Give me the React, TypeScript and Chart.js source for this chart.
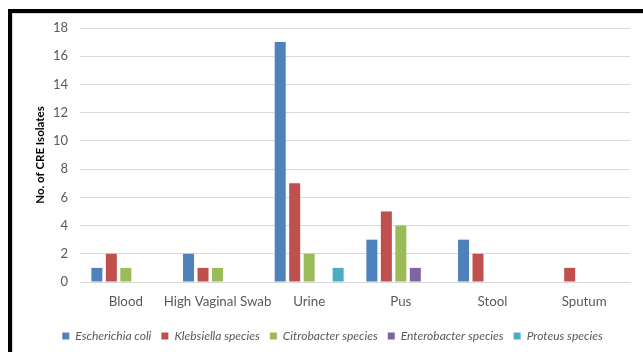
import React, { useEffect, useRef } from "react";
import { Chart, registerables } from "chart.js";

Chart.register(...registerables);

const categories = ["Blood", "High Vaginal Swab", "Urine", "Pus", "Stool", "Sputum"];
const seriesNames = ["Escherichia coli", "Klebsiella species", "Citrobacter species", "Enterobacter species", "Proteus species"];
const ecoli = [1, 2, 17, 3, 3, null];
const klebsiella = [2, 1, 7, 5, 2, 1];
const citrobacter = [1, 1, 2, 4, null, null];
const enterobacter = [null, null, null, 1, null, null];
const proteus = [null, null, 1, null, null, null];
const colors = ["#4F81BD", "#C0504D", "#9BBB59", "#8064A2", "#4BACC6"];
const yTicks = [0, 2, 4, 6, 8, 10, 12, 14, 16, 18];

export default function App() {
  const ref = useRef<HTMLCanvasElement>(null);
  useEffect(() => {
    document.body.style.margin = "0";
    document.body.style.overflow = "hidden";
    const values = [ecoli, klebsiella, citrobacter, enterobacter, proteus];
    const chart = new Chart(ref.current!, {
      type: "bar",
      data: {
        labels: categories,
        datasets: seriesNames.map((n, i) => ({
          label: n,
          data: values[i],
          backgroundColor: colors[i],
          borderWidth: 0,
          categoryPercentage: 0.79,
          barPercentage: 0.76,
        })),
      },
      options: {
        animation: false,
        responsive: false,
        maintainAspectRatio: false,
        layout: { padding: { left: 22, right: 13, top: 14, bottom: 0 } },
        plugins: {
          tooltip: { enabled: false },
          legend: {
            position: "bottom",
            labels: {
              boxWidth: 7,
              boxHeight: 7,
              padding: 10,
              color: "#595959",
              font: { family: "Lato", size: 12, style: "italic" },
            },
          },
        },
        scales: {
          x: {
            afterFit: (s: any) => { s.height = 38; s.paddingLeft = 0; s.paddingRight = 0; },
            grid: { display: false, drawTicks: false },
            border: { display: true, color: "#D9D9D9" },
            ticks: { color: "#595959", padding: 12, font: { family: "Lato", size: 13.3 }, maxRotation: 0, autoSkip: false },
          },
          y: {
            min: 0,
            max: 18,
            afterFit: (s: any) => { s.width = 45; s.paddingTop = 0; s.paddingBottom = 0; },
            afterBuildTicks: (s: any) => { s.ticks = yTicks.map((v) => ({ value: v })); },
            grid: { color: "#D9D9D9", drawTicks: false },
            border: { display: false },
            ticks: { color: "#595959", padding: 12, font: { family: "Lato", size: 13 } },
            title: {
              display: true,
              text: "No. of CRE Isolates",
              color: "#000",
              font: { family: "Lato", size: 11.5, weight: "bold" },
              padding: { top: -2, bottom: 0 },
            },
          },
        },
      },
    });
    return () => chart.destroy();
  }, []);
  return (
    <div
      style={{
        position: "absolute",
        left: 8,
        top: 9,
        width: 635,
        height: 343,
        borderTop: "4px solid #000",
        borderLeft: "4px solid #000",
        boxSizing: "border-box",
        background: "#fff",
      }}
    >
      <div style={{ borderTop: "1px solid #D9D9D9", borderLeft: "1px solid #D9D9D9", width: 631, height: 339, boxSizing: "border-box" }}>
        <canvas ref={ref} width={630} height={338} style={{ display: "block", width: 630, height: 338 }} />
      </div>
    </div>
  );
}
